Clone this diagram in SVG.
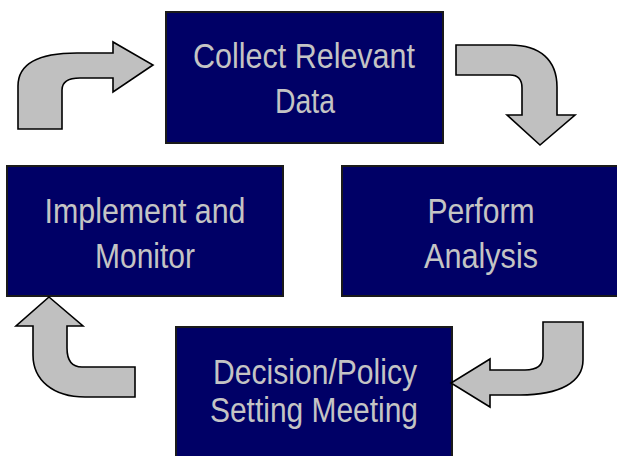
<svg xmlns="http://www.w3.org/2000/svg" width="617" height="456" viewBox="0 0 617 456">
  <style>
    .box { fill: #000066; stroke: #1a1a1a; stroke-width: 2; }
    .label { font-family: "Liberation Sans", Arial, sans-serif; font-size: 35px; fill: #c4c4c4; text-anchor: middle; }
    .arrow { fill: #c0c0c0; stroke: #000000; stroke-width: 1.6; stroke-linejoin: miter; }
  </style>
  <rect x="0" y="0" width="617" height="456" fill="#ffffff"/>

  <g id="collect-data">
    <rect class="box" x="166" y="12" width="277" height="131"/>
    <text class="label" x="304" y="68" textLength="222" lengthAdjust="spacingAndGlyphs">Collect Relevant</text>
    <text class="label" x="305" y="113" textLength="60" lengthAdjust="spacingAndGlyphs">Data</text>
  </g>

  <g id="perform-analysis">
    <rect class="box" x="342" y="166" width="280" height="130"/>
    <text class="label" x="481" y="223" textLength="107" lengthAdjust="spacingAndGlyphs">Perform</text>
    <text class="label" x="481" y="268" textLength="114" lengthAdjust="spacingAndGlyphs">Analysis</text>
  </g>

  <g id="decision-meeting">
    <rect class="box" x="176" y="327" width="276" height="135"/>
    <text class="label" x="315" y="384" textLength="204" lengthAdjust="spacingAndGlyphs">Decision/Policy</text>
    <text class="label" x="314" y="422" textLength="208" lengthAdjust="spacingAndGlyphs">Setting Meeting</text>
  </g>

  <g id="implement-monitor">
    <rect class="box" x="7" y="166" width="276" height="130"/>
    <text class="label" x="145" y="223" textLength="201" lengthAdjust="spacingAndGlyphs">Implement and</text>
    <text class="label" x="145" y="268" textLength="100" lengthAdjust="spacingAndGlyphs">Monitor</text>
  </g>

  <g id="connectors">
    <!-- implement -> collect -->
    <path class="arrow" d="M18,129 L18,86 C18,63 40,53 77,53 L113,53 L113,42 L153,65 L113,92 L113,78 L80,78 C68,78 62,82 62,90 L62,129 Z"/>
    <!-- collect -> analysis -->
    <path class="arrow" d="M456,45 L510,45 C540,45 557,60 557,87 L557,115 L575,115 L540,145 L507,115 L522,115 L522,88 C522,80 518,75 510,75 L456,75 Z"/>
    <!-- analysis -> decision -->
    <path class="arrow" d="M543,322 L583,322 L583,360 C583,382 560,395 520,395 L490,395 L490,407 L451,383 L490,359 L490,370 L525,370 C537,370 543,365 543,356 Z"/>
    <!-- decision -> implement -->
    <path class="arrow" d="M49,297 L83,326 L67,326 L67,348 C67,360 72,367 82,367 L135,367 L135,397 L85,397 C53,397 33,380 33,355 L33,326 L16,326 Z"/>
  </g>
</svg>
